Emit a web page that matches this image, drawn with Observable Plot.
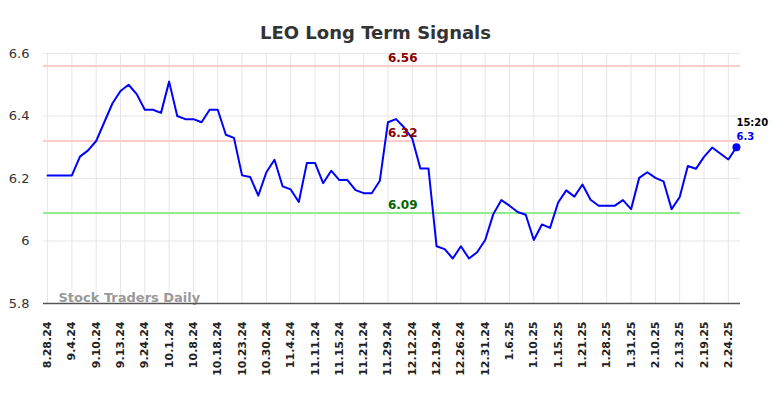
<!DOCTYPE html>
<html>
<head>
<meta charset="utf-8">
<script src="https://cdn.jsdelivr.net/npm/d3@7"></script>
<script src="https://cdn.jsdelivr.net/npm/@observablehq/plot@0.6"></script>
<style>
  html, body { margin: 0; padding: 0; background: #fff; }
  svg { display: block; }
</style>
</head>
<body>
<div id="chart"></div>
<script>
const title = "LEO Long Term Signals";
const tickLabels = ["8.28.24","9.4.24","9.10.24","9.13.24","9.24.24","10.1.24","10.8.24","10.18.24","10.23.24","10.30.24","11.4.24","11.11.24","11.15.24","11.21.24","11.29.24","12.12.24","12.19.24","12.26.24","12.31.24","1.6.25","1.10.25","1.15.25","1.21.25","1.28.25","1.31.25","2.10.25","2.13.25","2.19.25","2.24.25"];
const tickEvery = 3;
const values = [6.21,6.21,6.21,6.21,6.27,6.29,6.32,6.38,6.44,6.48,
  6.50,6.47,6.42,6.42,6.41,6.51,6.40,6.39,6.39,6.38,
  6.42,6.42,6.34,6.33,6.21,6.205,6.145,6.22,6.26,6.175,
  6.165,6.125,6.25,6.25,6.185,6.225,6.195,6.195,6.163,6.153,
  6.153,6.193,6.38,6.39,6.363,6.328,6.232,6.232,5.983,5.974,
  5.944,5.983,5.944,5.964,6.003,6.086,6.131,6.113,6.093,6.084,
  6.003,6.053,6.042,6.123,6.162,6.142,6.181,6.132,6.113,6.113,
  6.113,6.131,6.102,6.202,6.22,6.202,6.191,6.102,6.141,6.24,
  6.231,6.269,6.299,6.28,6.261,6.3];
const yTicks = [5.8, 6, 6.2, 6.4, 6.6];
const resistanceLevels = [6.56, 6.32];
const supportLevels = [6.09];
const lastTime = "15:20";
const watermark = "Stock Traders Daily";

const data = values.map((v, i) => ({i, v}));
const xTicks = tickLabels.map((_, k) => k * tickEvery);
const labelIndex = 42;
const last = data[data.length - 1];
const font = "DejaVu Sans, sans-serif";

const chart = Plot.plot({
  width: 784,
  height: 398,
  marginLeft: 43,
  marginRight: 44,
  marginTop: 53,
  marginBottom: 95,
  style: {fontFamily: font, background: "#fff"},
  x: {domain: [-0.5, values.length - 0.5], axis: null, label: null},
  y: {domain: [5.8, 6.6], axis: null, label: null},
  marks: [
    Plot.gridX(xTicks, {stroke: "#e6e6e6", strokeOpacity: 1, strokeWidth: 1}),
    Plot.gridY(yTicks, {stroke: "#e6e6e6", strokeOpacity: 1, strokeWidth: 1}),
    Plot.axisY(yTicks, {label: null, tickSize: 0, tickPadding: 14, fontSize: 13, fill: "#333", tickFormat: d => String(d)}),
    Plot.axisX(xTicks, {label: null, tickSize: 0, tickPadding: 18, tickRotate: -90, fontSize: 11, fontWeight: "bold", fill: "#222", tickFormat: d => tickLabels[d / tickEvery]}),
    Plot.ruleY(resistanceLevels, {stroke: "#ffcccc", strokeWidth: 2}),
    Plot.ruleY(supportLevels, {stroke: "#90ee90", strokeWidth: 2}),
    Plot.text([watermark], {frameAnchor: "bottom-left", dx: 15, dy: -2, text: d => d, textAnchor: "start", fontSize: 13, fontWeight: "bold", fill: "#999"}),
    Plot.ruleY([5.8], {stroke: "#555", strokeWidth: 1.5}),
    Plot.line(data, {x: "i", y: "v", stroke: "#0000ff", strokeWidth: 2}),
    Plot.dot([last], {x: "i", y: "v", r: 4, fill: "#0000ff"}),
    Plot.text(resistanceLevels, {x: () => labelIndex, y: d => d, text: d => d.toFixed(2), textAnchor: "start", dy: -8, fontSize: 12, fontWeight: "bold", fill: "#8b0000"}),
    Plot.text(supportLevels, {x: () => labelIndex, y: d => d, text: d => d.toFixed(2), textAnchor: "start", dy: -8, fontSize: 12, fontWeight: "bold", fill: "#006400"}),
    Plot.text([last], {x: "i", y: "v", text: () => lastTime, textAnchor: "start", dy: -24, fontSize: 10, fontWeight: "bold", fill: "#000"}),
    Plot.text([last], {x: "i", y: "v", text: d => String(d.v), textAnchor: "start", dy: -10, fontSize: 10, fontWeight: "bold", fill: "#0000ff"}),
    Plot.text([title], {frameAnchor: "top", dx: -16.5, dy: -27, text: d => d, fontSize: 18, fontWeight: "bold", fill: "#333"})
  ]
});
document.getElementById("chart").appendChild(chart);
</script>
</body>
</html>
